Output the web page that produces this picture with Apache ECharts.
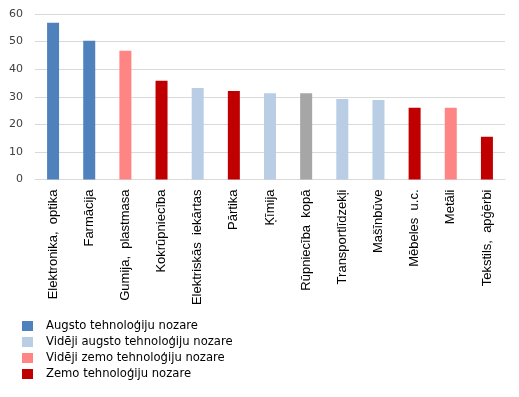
<!DOCTYPE html>
<html>
<head>
<meta charset="utf-8">
<script src="https://cdn.jsdelivr.net/npm/echarts@6/dist/echarts.min.js"></script>
<style>html,body{margin:0;padding:0;background:#fff}#c{width:519px;height:397px}</style>
</head>
<body>
<div id="c"></div>
<script>
const categories = ["Elektronika,  optika","Farmācija","Gumija,  plastmasa","Kokrūpniecība","Elektriskās  iekārtas","Pārtika","Ķīmija","Rūpniecība  kopā","Transportlīdzekļi","Mašīnbūve","Mēbeles  u.c.","Metāli","Tekstils,  apģērbi"];
const values = [56.8, 50.3, 46.7, 35.8, 33.2, 32.1, 31.3, 31.3, 29.2, 28.8, 26.0, 26.0, 15.5];
// group index: 0 Augsto, 1 Vidēji augsto, 2 Vidēji zemo, 3 Zemo, 4 total (no legend)
const groups = [0, 0, 2, 3, 1, 3, 1, 4, 1, 1, 3, 2, 3];
const groupNames = ["Augsto tehnoloģiju nozare","Vidēji augsto tehnoloģiju nozare","Vidēji zemo tehnoloģiju nozare","Zemo tehnoloģiju nozare","Rūpniecība kopā"];
const groupColors = ["#4F81BD","#B9CDE5","#FF8585","#C00000","#A6A6A6"];
const yTicks = [0, 10, 20, 30, 40, 50, 60];

const series = groupNames.map((name, g) => ({
  name: name,
  type: 'bar',
  stack: 'all',
  barWidth: 12,
  itemStyle: { color: groupColors[g] },
  data: values.map((v, i) => groups[i] === g ? v : null)
}));

const chart = echarts.init(document.getElementById('c'), null, { renderer: 'canvas' });
chart.setOption({
  animation: false,
  grid: { left: 35, right: 14, top: 14, bottom: 217.5, containLabel: false },
  legend: {
    data: groupNames.slice(0, 4),
    orient: 'vertical',
    left: 22,
    top: 319,
    itemWidth: 11,
    itemHeight: 10,
    itemGap: 2,
    icon: 'rect',
    textStyle: { fontFamily: 'DejaVu Sans', fontSize: 11.6, color: '#000', lineHeight: 14, padding: [0, 0, 0, 8] },
    padding: 0
  },
  xAxis: {
    type: 'category',
    data: categories,
    axisLine: { lineStyle: { color: '#D9D9D9', width: 1 } },
    axisTick: { show: false },
    axisLabel: { rotate: 90, interval: 0, margin: 10, fontFamily: 'Liberation Sans', fontSize: 13, color: '#000' }
  },
  yAxis: {
    type: 'value',
    min: yTicks[0],
    max: yTicks[yTicks.length - 1],
    interval: 10,
    axisLine: { show: false },
    axisTick: { show: false },
    splitLine: { lineStyle: { color: '#D9D9D9', width: 1 } },
    axisLabel: { margin: 12, fontFamily: 'DejaVu Sans', fontSize: 11, color: '#404040' }
  },
  series: series
});
</script>
</body>
</html>
